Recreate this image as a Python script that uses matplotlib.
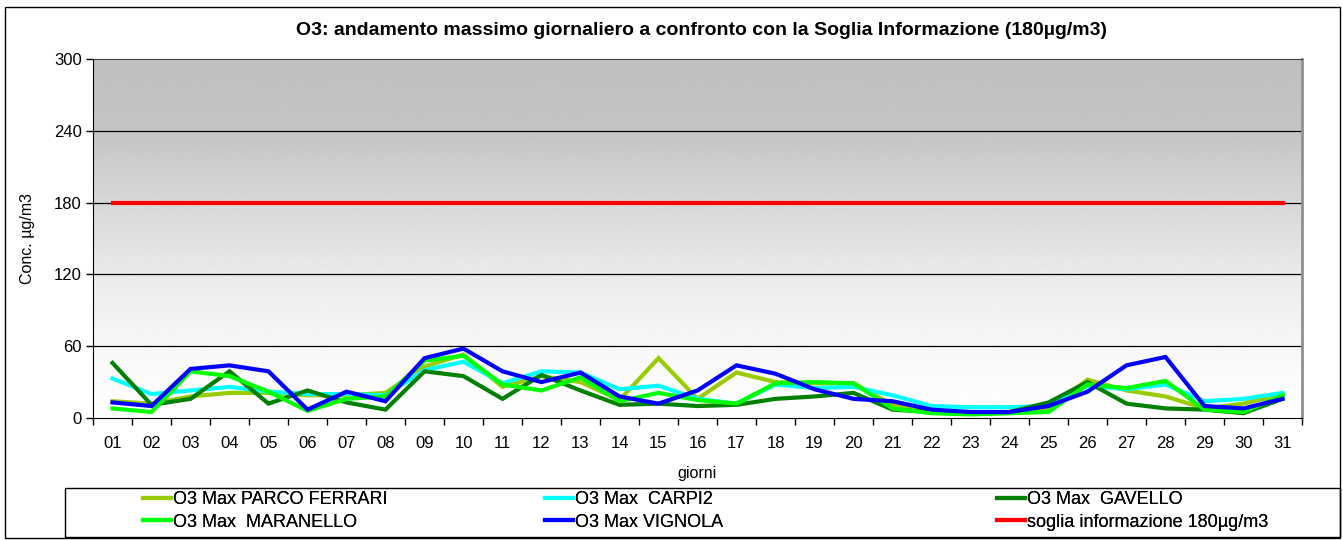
import numpy as np
import matplotlib
matplotlib.use("Agg")
import matplotlib.pyplot as plt
from matplotlib.patches import Rectangle

plt.rcParams['font.family'] = ['Liberation Sans', 'DejaVu Sans']

days = ["01", "02", "03", "04", "05", "06", "07", "08", "09", "10",
        "11", "12", "13", "14", "15", "16", "17", "18", "19", "20",
        "21", "22", "23", "24", "25", "26", "27", "28", "29", "30", "31"]

parco_ferrari = [14, 12, 18, 21, 21, 19, 19, 21, 43, 53, 26, 35, 30, 15, 50, 16,
                 38, 30, 29, 29, 11, 5, 4, 5, 8, 32, 23, 18, 8, 12, 20]
carpi2 = [33, 20, 23, 26, 22, 20, 20, 19, 40, 47, 29, 39, 38, 24, 27, 16,
          12, 28, 25, 26, 19, 10, 9, 9, 10, 27, 24, 28, 14, 16, 21]
gavello = [46, 11, 16, 39, 12, 23, 13, 7, 39, 35, 16, 36, 23, 11, 12, 10,
           11, 16, 18, 21, 7, 5, 4, 5, 13, 30, 12, 8, 7, 4, 16]
maranello = [8, 5, 39, 35, 22, 6, 16, 18, 48, 52, 28, 23, 34, 14, 21, 15,
             12, 29, 30, 29, 8, 4, 3, 4, 5, 28, 25, 31, 7, 5, 19]
vignola = [13, 10, 41, 44, 39, 7, 22, 14, 50, 58, 39, 30, 38, 18, 12, 23,
           44, 37, 24, 16, 14, 7, 5, 5, 10, 22, 44, 51, 10, 8, 16]
soglia = [180] * 31

series_names = ["O3 Max PARCO FERRARI", "O3 Max  CARPI2", "O3 Max  GAVELLO",
                "O3 Max  MARANELLO", "O3 Max VIGNOLA", "soglia informazione 180µg/m3"]
series_values = [parco_ferrari, carpi2, gavello, maranello, vignola, soglia]
colors = ["#99CC00", "#00FFFF", "#008000", "#00FF00", "#0000FF", "#FF0000"]

W, H = 1343, 540
fig = plt.figure(figsize=(W / 100, H / 100), dpi=100)
ax = fig.add_axes([93 / W, 1 - 418 / H, (1302 - 93) / W, (418 - 59) / H])

# background gradient
yy = np.linspace(0, 300, 301)
prof = np.interp(yy, [0, 60, 120, 180, 240, 300], [1.0, 0.97, 0.92, 0.845, 0.77, 0.75])
grad = np.tile(prof[:, None], (1, 2))
ax.imshow(grad, extent=[-0.5, len(days) - 0.5, 0, 300], aspect='auto', origin='lower',
          cmap='gray', vmin=0, vmax=1, zorder=0, interpolation='bilinear')

for g in [60, 120, 180, 240]:
    ax.axhline(g, color='black', lw=0.9, zorder=1)

x = np.arange(len(days))
handles = []
for name, vals, c in zip(series_names, series_values, colors):
    h, = ax.plot(x, vals, color=c, lw=3.0, label=name, zorder=3, solid_joinstyle='miter')
    handles.append(h)

ax.set_xlim(-0.5, len(days) - 0.5)
ax.set_ylim(0, 300)
ax.set_yticks([0, 60, 120, 180, 240, 300])
ax.set_xticks(x)
ax.set_xticklabels(days)
ax.set_xticks(np.arange(-0.5, len(days), 1), minor=True)
ax.tick_params(axis='x', which='major', length=0, pad=13, labelsize=12)
ax.tick_params(axis='x', which='minor', length=5, width=1, direction='out', color='black')
ax.tick_params(axis='y', length=5, width=1, direction='out', labelsize=12, pad=3)

ax.spines['left'].set_color('black')
ax.spines['bottom'].set_color('black')
ax.spines['top'].set_color('#404040')
ax.spines['right'].set_color('#909090')
ax.spines['right'].set_linewidth(2)

ax.set_ylabel("Conc. µg/m3", fontsize=11.5, labelpad=14)
ax.set_xlabel("giorni", fontsize=11.5, labelpad=11)

fig.text(702 / W, 1 - 31 / H, "O3: andamento massimo giornaliero a confronto con la Soglia Informazione (180µg/m3)",
         ha='center', va='center', fontsize=14, fontweight='bold')

# outer frame
fig.add_artist(Rectangle((5 / W, 1 - 538 / H), (1340 - 5) / W, (538 - 7) / H,
                         transform=fig.transFigure, fill=False, edgecolor='black', lw=1))
# legend frame
fig.add_artist(Rectangle((65 / W, 1 - 537 / H), (1340 - 65) / W, (537 - 488) / H,
                         transform=fig.transFigure, fill=False, edgecolor='black', lw=1))

cols = [(143, [0, 3]), (545, [1, 4]), (997, [2, 5])]
for xpos, idx in cols:
    leg = fig.legend([handles[i] for i in idx], [series_names[i] for i in idx],
                     loc='center left', bbox_to_anchor=(xpos / W, 1 - 511 / H),
                     frameon=False, borderpad=0, borderaxespad=0, handlelength=1.55,
                     handletextpad=0.12, labelspacing=0.3, fontsize=13)
    fig.add_artist(leg)

fig.savefig("out.png", dpi=100)
